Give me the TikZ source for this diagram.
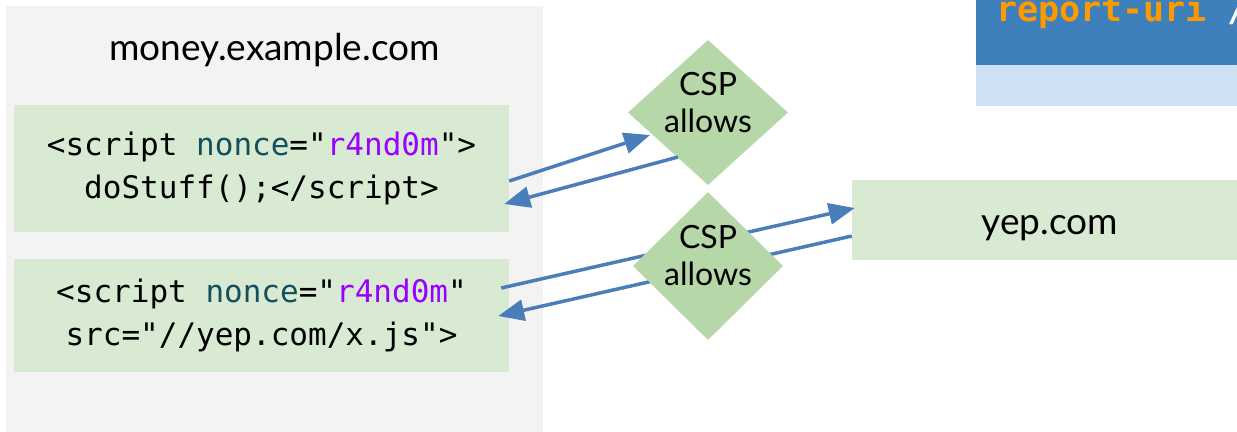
\documentclass[tikz,border=0pt]{standalone}
\usepackage{fontspec}
\setmainfont{Lato}
\setmonofont{DejaVu Sans Mono}
\usetikzlibrary{shapes.geometric,arrows.meta,calc}
\definecolor{panelgray}{HTML}{F3F3F3}
\definecolor{boxgreen}{HTML}{D9EAD3}
\definecolor{gategreen}{HTML}{B6D7A8}
\definecolor{flowblue}{HTML}{4A7EBB}
\definecolor{attrteal}{HTML}{134F5C}
\definecolor{valpurple}{HTML}{9900FF}
\definecolor{headblue}{HTML}{3D80BB}
\definecolor{rowblue}{HTML}{CFE2F3}
\definecolor{keyorange}{HTML}{FF9900}
\newcommand{\attr}[1]{\textcolor{attrteal}{#1}}
\newcommand{\val}[1]{\textcolor{valpurple}{#1}}
\newcommand{\gatetext}{\smash{\begin{tabular}{@{}c@{}}CSP\\allows\end{tabular}}}
\begin{document}
\begin{tikzpicture}[x=1bp,y=-1bp,
  panel/.style={fill=panelgray, inner sep=0pt},
  codebox/.style={fill=boxgreen, inner sep=0pt, minimum width=495bp,
    font=\fontsize{31bp}{43bp}\selectfont\ttfamily, align=center},
  sitebox/.style={fill=boxgreen, inner sep=0pt},
  gate/.style={diamond, fill=gategreen, inner sep=0pt,
    font=\fontsize{32bp}{37bp}\selectfont},
  heading/.style={font=\fontsize{37bp}{44bp}\selectfont, inner sep=0pt},
  flow/.style={draw=flowblue, line width=3.5bp, -{Triangle[length=26bp,width=21bp]}},
]
\useasboundingbox (0,0) rectangle (1237,431);
\begin{scope}
\clip (0,0) rectangle (1237,431);

% page that serves the scripts
\node[panel, minimum width=537bp, minimum height=440bp] (page) at (274.5,226) {};
\node[heading, anchor=base] (pagetitle) at (274.5,60) {money.example.com};

\node[codebox, minimum height=127bp] (inline) at (261.5,168.5)
  {<script \attr{nonce}="\val{r4nd0m}">\\doStuff();</script>};
\node[codebox, minimum height=113bp] (external) at (261.5,315.5)
  {<script \attr{nonce}="\val{r4nd0m}"\\src="//yep.com/x.js">};

% third-party host
\node[sitebox, minimum width=396bp, minimum height=80bp] (yep) at (1050,220) {};
\node[heading, anchor=base] (yeptitle) at ($(yep.center)+(0,14)$) {yep.com};

% policy table header (partly visible)
\fill[headblue] (976,-5) rectangle (1250,65);
\fill[rowblue] (976,65) rectangle (1250,106);
\node[anchor=base west, inner sep=0pt, text=keyorange,
  font=\fontsize{35bp}{35bp}\selectfont\ttfamily\bfseries] (directive) at (996,21)
  {report-uri \textcolor{white}{/}};

% inline script check
\node[gate, minimum width=160bp, minimum height=145bp] (gateA) at (708,112.5) {\gatetext};
\draw[flow] ($(inline.east)+(0,12.5)$) -- ($(gateA.center)+(-58,22.5)$);
\draw[flow] ($(gateA.center)+(-30,44.5)$) -- ($(inline.east)+(-5,35.5)$);

% external script fetch
\draw[flow] ($(external.east)+(-8,-27.5)$) -- ($(yep.west)+(3,-12)$);
\draw[flow] ($(yep.west)+(0,16)$) -- ($(external.east)+(-11,0.5)$);
\node[gate, minimum width=150bp, minimum height=148bp] (gateB) at (708,266) {\gatetext};
\end{scope}
\end{tikzpicture}
\end{document}
